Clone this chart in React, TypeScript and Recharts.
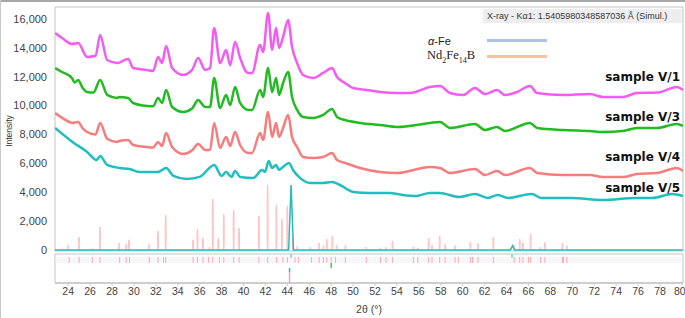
import React from "react";
import { ComposedChart, Line, Bar, XAxis, YAxis, ReferenceArea, ReferenceLine } from "recharts";

// 2θ ticks and intensity ticks
const xTicks = [24, 26, 28, 30, 32, 34, 36, 38, 40, 42, 44, 46, 48, 50, 52, 54, 56, 58, 60, 62, 64, 66, 68, 70, 72, 74, 76, 78, 80];
const yTicks = [0, 2000, 4000, 6000, 8000, 10000, 12000, 14000, 16000];

// measured patterns, [2θ, intensity]
const sampleV1: [number, number][] = [
  [22.81, 15030], [23.45, 14680], [24.35, 14270], [24.91, 14340], [25.73, 13370], [26.5, 13450], [26.92, 14890],
  [27.56, 13160], [28.47, 12950], [29.47, 13230], [29.93, 12600], [31.21, 12460], [31.75, 12400], [32.21, 13370],
  [32.57, 12950], [32.94, 14130], [33.49, 12600], [34.49, 12120], [35.31, 12470], [35.86, 13300], [36.5, 12470],
  [36.95, 12600], [37.32, 15380], [37.86, 12950], [38.41, 13850], [38.78, 12800], [39.23, 14410], [39.69, 13300],
  [40.42, 12260], [40.78, 12260], [41.51, 14200], [41.79, 13710], [42.24, 16420], [42.61, 13850], [42.97, 15380],
  [43.24, 13990], [43.61, 14750], [44.07, 15930], [44.43, 14060], [44.89, 12950], [45.43, 12120], [46.35, 11910],
  [47.26, 12260], [48.08, 12600], [48.53, 11980], [49.26, 11570], [49.99, 11220], [51.27, 11080], [52.46, 10940],
  [54.01, 10870], [55.19, 10870], [57.02, 11290], [57.93, 11360], [58.84, 10870], [60.03, 10730], [61.12, 11220],
  [62.03, 10800], [63.13, 11080], [63.86, 10730], [64.95, 10940], [66.14, 11360], [66.78, 10870], [69.15, 10730],
  [71.61, 10800], [72.8, 10600], [74.62, 10600], [75.9, 10870], [77.72, 10900], [79.55, 11290], [80.1, 11080],
];

const sampleV3: [number, number][] = [
  [22.81, 12600], [23.45, 12330], [24.35, 11900], [24.6, 11600], [24.91, 11780], [25.3, 11250], [25.73, 10940],
  [26.3, 10900], [26.92, 11780], [27.56, 10740], [28.47, 10530], [28.65, 10600], [29.47, 10530], [29.93, 10180],
  [31.21, 9970], [31.75, 9950], [32.21, 10530], [32.57, 10180], [32.94, 11080], [33.49, 9900], [34.49, 9560],
  [35.31, 9800], [35.86, 10390], [36.5, 9900], [36.95, 9900], [37.32, 11910], [37.86, 9840], [38.41, 10740],
  [38.78, 10040], [39.23, 11290], [39.69, 10180], [40.42, 9700], [40.78, 9700], [41.51, 11080], [41.79, 10600],
  [42.24, 12600], [42.61, 10940], [42.97, 11910], [43.24, 10740], [43.61, 11570], [44.07, 12330], [44.43, 10600],
  [44.89, 9700], [45.43, 9210], [46.35, 9140], [47.26, 9350], [48.08, 9770], [48.53, 9210], [49.26, 9000],
  [50.63, 8800], [52.46, 8660], [54.01, 8520], [57.02, 8800], [57.93, 8870], [58.84, 8450], [61.12, 8730],
  [62.03, 8310], [63.13, 8520], [63.86, 8240], [66.14, 8800], [66.78, 8450], [69.15, 8310], [71.61, 8240],
  [72.8, 8170], [74.62, 8240], [75.9, 8450], [77.72, 8450], [79.55, 8730], [80.1, 8590],
];

const sampleV4: [number, number][] = [
  [22.81, 9490], [23.45, 9150], [24.45, 8800], [24.91, 8870], [25.3, 8450], [25.73, 8170], [26.5, 8000],
  [26.92, 8800], [27.56, 7700], [28.47, 7480], [28.65, 7550], [29.47, 7620], [29.93, 7270], [31.21, 7130],
  [31.75, 7100], [32.21, 7480], [32.57, 7200], [32.94, 8100], [33.49, 7130], [34.49, 6650], [35.31, 6900],
  [35.86, 7340], [36.5, 6930], [36.95, 6930], [37.32, 8800], [37.86, 7070], [38.41, 7830], [38.78, 7200],
  [39.23, 8170], [39.69, 7270], [40.42, 6720], [40.78, 6720], [41.51, 8100], [41.79, 7620], [42.24, 9560],
  [42.61, 7830], [42.97, 8800], [43.24, 7830], [43.61, 8450], [44.07, 9350], [44.43, 7830], [44.89, 7130],
  [45.43, 6440], [46.35, 6370], [47.26, 6440], [48.08, 6720], [48.53, 6230], [49.26, 6030], [50.63, 5680],
  [52.46, 5400], [54.01, 5330], [57.02, 5750], [57.93, 5680], [58.84, 5330], [61.12, 5610], [62.03, 5190],
  [63.13, 5470], [63.86, 5190], [66.14, 5680], [66.78, 5330], [69.15, 5190], [71.61, 5190], [72.8, 5050],
  [74.62, 5050], [75.9, 5260], [77.72, 5330], [79.55, 5680], [80.1, 5470],
];

const sampleV5: [number, number][] = [
  [22.81, 8450], [24.4, 7480], [25.73, 6790], [26.6, 6230], [26.92, 6510], [27.56, 5890], [28.7, 5680],
  [29.6, 5610], [30.5, 5400], [32.2, 5400], [32.94, 5680], [33.6, 5130], [34.8, 4920], [36.0, 5060],
  [37.32, 5890], [38.0, 5130], [38.41, 5400], [38.9, 5060], [39.23, 5470], [39.69, 5060], [40.9, 4990],
  [41.7, 5540], [41.95, 5400], [42.3, 6160], [42.61, 5680], [42.97, 5890], [43.24, 5540], [43.61, 5750],
  [44.15, 6030], [44.52, 5540], [45.15, 4990], [46.1, 4640], [47.2, 4640], [48.08, 4710], [48.8, 4500],
  [50.0, 4020], [51.5, 3950], [53.3, 3950], [54.5, 3810], [55.8, 3740], [57.0, 3950], [57.9, 3950],
  [59.7, 3670], [61.12, 3880], [62.3, 3600], [63.2, 3810], [64.1, 3600], [66.3, 3880], [67.2, 3600],
  [69.9, 3600], [72.8, 3460], [75.8, 3600], [77.3, 3600], [79.1, 3880], [80.1, 3740],
];

// simulated Nd2Fe14B reflections, [2θ, intensity]
const ndPeaks: [number, number][] = [
  [24.0, 350], [25.0, 900], [26.2, 100], [26.9, 1590], [28.65, 480], [29.3, 420], [29.55, 700], [31.4, 400],
  [32.2, 1320], [32.9, 2420], [35.4, 700], [35.8, 1450], [36.3, 800], [36.9, 200], [37.2, 3530], [37.7, 800],
  [38.2, 2490], [39.1, 2770], [39.6, 1520], [41.4, 2350], [42.2, 4500], [43.0, 3120], [43.5, 2150], [44.0, 3050],
  [44.5, 800], [44.9, 250], [46.1, 200], [46.9, 480], [47.3, 300], [47.6, 760], [48.1, 970], [48.5, 350],
  [49.3, 350], [51.2, 200], [52.5, 150], [53.0, 200], [53.6, 620], [55.5, 250], [55.9, 150], [56.9, 830],
  [57.2, 350], [57.9, 970], [58.4, 400], [59.3, 300], [60.7, 550], [61.4, 480], [62.8, 900], [64.7, 350],
  [65.2, 760], [65.5, 500], [66.2, 1100], [67.1, 200], [67.5, 550], [69.1, 480], [69.5, 300],
];

// simulated α-Fe pattern
const feLine: [number, number][] = [
  [22.8, 0], [44.12, 0], [44.34, 4500], [44.56, 0], [64.35, 0], [64.55, 300], [64.75, 0], [80.1, 0],
];

// reflection markers below the plot
const ndMarks = [24.1, 25.0, 26.2, 26.9, 28.7, 29.3, 29.6, 31.4, 32.2, 32.7, 32.9, 35.4, 35.8, 36.3, 36.8, 37.2, 37.8, 38.2,
  39.1, 39.6, 41.4, 42.2, 43.0, 43.6, 44.0, 44.7, 45.0, 46.2, 46.9, 47.3, 47.6, 48.0, 48.4, 49.3, 51.2, 52.5, 53.0,
  53.6, 55.5, 55.9, 56.9, 57.2, 57.9, 58.4, 59.3, 59.6, 60.7, 60.9, 61.4, 62.8, 64.7, 65.2, 65.5, 66.0, 66.2, 67.1,
  67.5, 69.1, 69.2, 69.5];
const feMarks = [44.34, 64.5];

const samples = [
  { name: "sample V/1", data: sampleV1, color: "#f25cf2" },
  { name: "sample V/3", data: sampleV3, color: "#22bb22" },
  { name: "sample V/4", data: sampleV4, color: "#f77c7c" },
  { name: "sample V/5", data: sampleV5, color: "#1fbfbf" },
];

const toPoints = (arr: [number, number][]) => arr.map(([theta, v]) => ({ theta, v }));

const X_MIN = 22.8;
const X_MAX = 80.1;

function Spike(props: any) {
  const { x, y, width, height } = props;
  if (height == null || height <= 0) return null;
  const cx = x + width / 2;
  const base = y + height;
  const d = `M${x},${base} C${cx - 0.6},${base} ${cx - 0.6},${y} ${cx},${y} C${cx + 0.6},${y} ${cx + 0.6},${base} ${x + width},${base}`;
  return <path d={d} fill="none" stroke="#ffbcbc" strokeWidth={1} />;
}

const tickStyle = { fontSize: 11, fill: "#444", fontFamily: "Liberation Sans, Arial, sans-serif" };

export default function App() {
  const labelTop = [70, 110, 150, 181];
  return (
    <div style={{ position: "absolute", left: 0, top: 0, width: 685, height: 318, background: "#fff", fontFamily: "Liberation Sans, Arial, sans-serif" }}>
      <div style={{ position: "absolute", left: 0, top: 0, width: 685, height: 2, background: "#a8a8a8" }} />
      <div style={{ position: "absolute", left: 0, top: 0, width: 1, height: 318, background: "#c8c8c8" }} />
      <ComposedChart
        width={685}
        height={318}
        data={ndPeaks.map(([theta, v]) => ({ theta, v }))}
        margin={{ top: 7, right: 2, left: 0, bottom: 0 }}
      >
        <XAxis
          dataKey="theta"
          type="number"
          domain={[X_MIN, X_MAX]}
          ticks={xTicks}
          allowDataOverflow
          height={35}
          tick={{ ...tickStyle, fontSize: 10.5 }}
          tickLine={{ stroke: "#ccc" }}
          tickSize={3}
          axisLine={{ stroke: "#bbb" }}
          label={{ value: "2θ (°)", position: "insideBottom", offset: 5, style: { fontSize: 10.5, fill: "#444" } }}
        />
        <YAxis
          type="number"
          domain={[-2290, 16830]}
          ticks={yTicks}
          allowDataOverflow
          width={55}
          tick={tickStyle}
          tickLine={false}
          axisLine={false}
          tickFormatter={(v: number) => v.toLocaleString("en-US")}
        />
        <ReferenceArea x1={X_MIN} x2={X_MAX} y1={-70} y2={16830} fill="none" stroke="#c4c4c4" ifOverflow="visible" />
        <ReferenceArea x1={X_MIN} x2={X_MAX} y1={-2290} y2={-280} fill="none" stroke="#c4c4c4" ifOverflow="visible" />
        <ReferenceArea x1={X_MIN} x2={X_MAX} y1={-900} y2={-480} fill="#efeef8" stroke="none" ifOverflow="visible" />
        {ndMarks.map((t) => (
          <ReferenceLine key={"nd" + t} segment={[{ x: t, y: -480 }, { x: t, y: -900 }]} stroke="#ffa8b0" strokeWidth={1} />
        ))}
        {feMarks.map((t) => (
          <ReferenceLine key={"fe" + t} segment={[{ x: t, y: -300 }, { x: t, y: -540 }]} stroke="#2ab8c0" strokeWidth={1} />
        ))}
        <ReferenceLine segment={[{ x: 48.0, y: -900 }, { x: 48.0, y: -1250 }]} stroke="#44cc44" strokeWidth={1.5} />
        <ReferenceLine segment={[{ x: 44.2, y: -1250 }, { x: 44.2, y: -1560 }]} stroke="#2ab8c0" strokeWidth={1.5} />
        <ReferenceLine segment={[{ x: 44.2, y: -1560 }, { x: 44.2, y: -2290 }]} stroke="#ff9ad0" strokeWidth={1.5} />
        <Bar dataKey="v" barSize={6} shape={<Spike />} isAnimationActive={false} />
        <Line
          data={toPoints(feLine)}
          dataKey="v"
          type="linear"
          stroke="#2ab8c0"
          strokeWidth={1.5}
          dot={false}
          isAnimationActive={false}
        />
        {samples.map((s) => (
          <Line
            key={s.name}
            data={toPoints(s.data)}
            dataKey="v"
            name={s.name}
            type="monotone"
            stroke={s.color}
            strokeWidth={2.5}
            strokeLinejoin="round"
            dot={false}
            isAnimationActive={false}
          />
        ))}
      </ComposedChart>

      <div style={{ position: "absolute", left: -22, top: 125, width: 64, height: 12, fontSize: 8.5, color: "#333", textAlign: "center", transform: "rotate(-90deg)" }}>
        Intensity
      </div>

      <div style={{ position: "absolute", left: 483, top: 9, width: 199, height: 14, background: "#eeeeee", fontSize: 9, lineHeight: "14px", color: "#333", paddingLeft: 4, boxSizing: "border-box", whiteSpace: "nowrap" }}>
        X-ray - Kα1: 1.5405980348587036 Å (Simul.)
      </div>
      <div style={{ position: "absolute", left: 428, top: 34, fontSize: 11, lineHeight: "14px", color: "#222" }}>
        <i>α</i>-Fe
      </div>
      <div style={{ position: "absolute", left: 487, top: 39, width: 60, height: 3, background: "#a9c4e6" }} />
      <div style={{ position: "absolute", left: 427, top: 47, fontSize: 12.5, lineHeight: "16px", color: "#222", fontFamily: "Liberation Serif, Times New Roman, serif" }}>
        Nd<sub style={{ fontSize: 8 }}>2</sub>Fe<sub style={{ fontSize: 8 }}>14</sub>B
      </div>
      <div style={{ position: "absolute", left: 487, top: 55, width: 60, height: 3, background: "#fcc0a2" }} />

      {samples.map((s, i) => (
        <div
          key={s.name}
          style={{ position: "absolute", right: 5, top: labelTop[i], fontSize: 12, lineHeight: "14px", fontWeight: "bold", color: "#111", fontFamily: "DejaVu Sans, Verdana, sans-serif", whiteSpace: "nowrap" }}
        >
          {s.name}
        </div>
      ))}
    </div>
  );
}
